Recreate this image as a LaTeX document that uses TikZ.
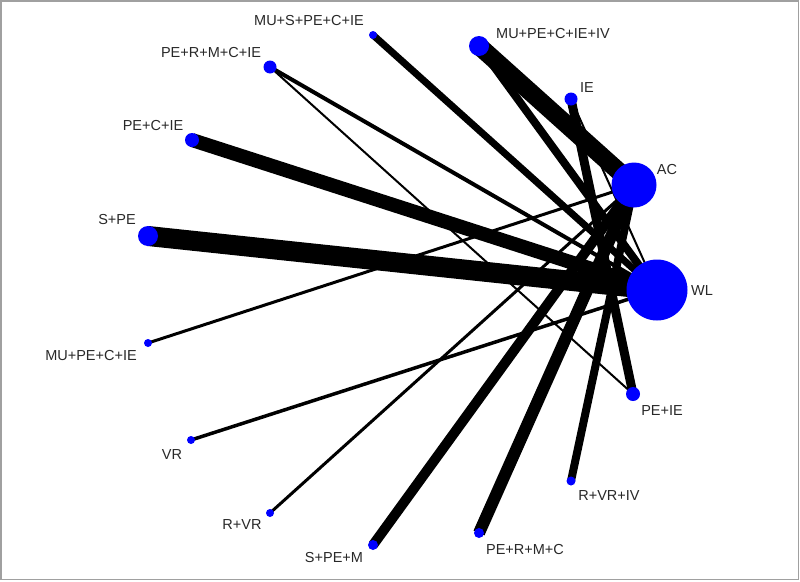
\documentclass[tikz,border=0pt]{standalone}
\usepackage{fontspec}
\setmainfont{Liberation Sans}
\usetikzlibrary{backgrounds}
\definecolor{nodeblue}{RGB}{0,0,255}
\definecolor{txt}{RGB}{40,40,40}
\definecolor{framegray}{RGB}{160,160,160}
\begin{document}
\begin{tikzpicture}[x=1pt,y=-1pt,
  trt/.style={circle,fill=nodeblue,inner sep=0pt,minimum size=#1},
  lab/.style={text=txt,font=\fontsize{14.5}{16}\selectfont,inner sep=0pt,anchor=center},
  edge/.style={line width=#1,draw=black,line cap=butt}]
\useasboundingbox (0,0) rectangle (800,581);
\draw[framegray,line width=1.5pt] (0.75,0.75) rectangle (798.5,579.5);
% treatments
\node[trt=8pt]  (musp) at (373,35) {};
\node[trt=20pt] (mupiv) at (479,46) {};
\node[trt=13pt] (prmci) at (270,67) {};
\node[trt=13pt] (ie) at (571,99) {};
\node[trt=14pt] (pci) at (192,140) {};
\node[trt=45pt] (ac) at (634,185) {};
\node[trt=20pt] (spe) at (148,236) {};
\node[trt=61pt] (wl) at (657,290) {};
\node[trt=8pt]  (mupci) at (148,343) {};
\node[trt=14pt] (peie) at (633,394) {};
\node[trt=8pt]  (vr) at (191,440) {};
\node[trt=9pt]  (rvriv) at (571,481) {};
\node[trt=8pt]  (rvr) at (270,513) {};
\node[trt=10pt] (spem) at (373,545) {};
\node[trt=10pt] (prmc) at (479,533) {};
% labels
\node[lab] (l1) at (309,21) {MU+S+PE+C+IE};
\node[lab] (l2) at (553,34) {MU+PE+C+IE+IV};
\node[lab] (l3) at (211,53) {PE+R+M+C+IE};
\node[lab] (l4) at (587,88) {IE};
\node[lab] (l5) at (153,126) {PE+C+IE};
\node[lab] (l6) at (667,170) {AC};
\node[lab] (l7) at (117,220) {S+PE};
\node[lab] (l8) at (702,291) {WL};
\node[lab] (l9) at (91,356) {MU+PE+C+IE};
\node[lab] (l10) at (662,411) {PE+IE};
\node[lab] (l11) at (172,455) {VR};
\node[lab] (l12) at (609,496) {R+VR+IV};
\node[lab] (l13) at (242,525) {R+VR};
\node[lab] (l14) at (334,557) {S+PE+M};
\node[lab] (l15) at (525,549) {PE+R+M+C};
% edges
\begin{pgfonlayer}{background}
\draw[edge=20pt] (spe.center) -- (wl.center);
\draw[edge=14pt] (pci.center) -- (wl.center);
\draw[edge=18pt] (mupiv.center) -- (ac.center);
\draw[edge=8pt] (mupiv.center) -- (wl.center);
\draw[edge=7pt] (musp.center) -- (wl.center);
\draw[edge=4pt] (prmci.center) -- (wl.center);
\draw[edge=2pt] (prmci.center) -- (peie.center);
\draw[edge=9pt] (ie.center) -- (peie.center);
\draw[edge=2pt] (ie.center) -- (wl.center);
\draw[edge=3pt] (mupci.center) -- (ac.center);
\draw[edge=3.5pt] (vr.center) -- (wl.center);
\draw[edge=3pt] (rvr.center) -- (ac.center);
\draw[edge=10pt] (spem.center) -- (ac.center);
\draw[edge=12pt] (prmc.center) -- (ac.center);
\draw[edge=8pt] (rvriv.center) -- (ac.center);
\end{pgfonlayer}
\end{tikzpicture}
\end{document}
